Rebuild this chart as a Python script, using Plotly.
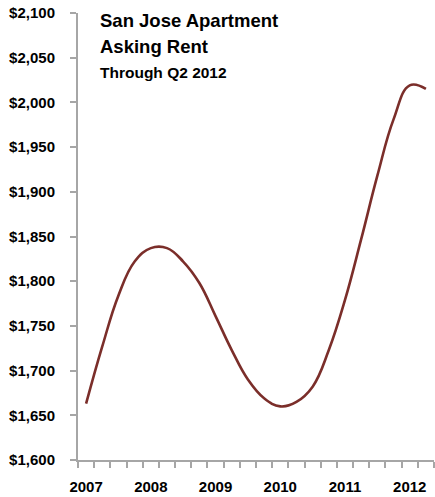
import plotly.graph_objects as go

quarters = ["2007 Q1", "2007 Q2", "2007 Q3", "2007 Q4",
            "2008 Q1", "2008 Q2", "2008 Q3", "2008 Q4",
            "2009 Q1", "2009 Q2", "2009 Q3", "2009 Q4",
            "2010 Q1", "2010 Q2", "2010 Q3", "2010 Q4",
            "2011 Q1", "2011 Q2", "2011 Q3", "2011 Q4",
            "2012 Q1", "2012 Q2"]
rent = [1663, 1727, 1784, 1822, 1837, 1837, 1822, 1798, 1761, 1723, 1690,
        1669, 1660, 1665, 1682, 1723, 1779, 1847, 1918, 1981, 2019, 2015]
year_labels = ["2007", "2008", "2009", "2010", "2011", "2012"]
y_ticks = list(range(1600, 2101, 50))
title_lines = ["San Jose Apartment", "Asking Rent"]
subtitle = "Through Q2 2012"

FONT = "Liberation Sans Narrow, Arial Narrow, Arial, sans-serif"

x_idx = list(range(len(quarters)))
year_pos = [quarters.index(y + " Q1") for y in year_labels]

fig = go.Figure()
fig.add_trace(go.Scatter(
    x=x_idx, y=rent, mode="lines",
    line=dict(color="#7B2E2A", width=2.6, shape="spline", smoothing=1.2),
    hoverinfo="skip", showlegend=False,
))

fig.update_layout(
    width=435, height=497,
    margin=dict(l=78, r=1, t=13, b=37),
    paper_bgcolor="white", plot_bgcolor="white",
    font=dict(family=FONT, color="black"),
    xaxis=dict(
        range=[-0.5, len(quarters) - 0.5],
        tickvals=year_pos, ticktext=year_labels,
        ticks="", showgrid=False, zeroline=False,
        showline=True, linecolor="#A6A6A6", linewidth=2,
        tickfont=dict(family=FONT, size=15, color="black", weight="bold"),
        ticklabelstandoff=12,
        minor=dict(tickvals=[i - 0.5 for i in range(len(quarters) + 1)],
                   ticks="outside", ticklen=6, tickwidth=2, tickcolor="#A6A6A6",
                   showgrid=False),
    ),
    yaxis=dict(
        range=[1600, 2100],
        tickvals=y_ticks, ticktext=["${:,}".format(v) for v in y_ticks],
        ticks="outside", ticklen=6, tickwidth=2, tickcolor="#A6A6A6",
        showgrid=False, zeroline=False,
        showline=True, linecolor="#A6A6A6", linewidth=2,
        tickfont=dict(family=FONT, size=15, color="black", weight="bold"),
        ticklabelstandoff=12,
    ),
    annotations=[
        dict(text=title_lines[0], xref="paper", yref="paper",
             x=0.056, y=0.983, xanchor="left", yanchor="middle", align="left",
             showarrow=False,
             font=dict(family=FONT, size=18.5, color="black", weight="bold")),
        dict(text=title_lines[1], xref="paper", yref="paper",
             x=0.056, y=0.924, xanchor="left", yanchor="middle", align="left",
             showarrow=False,
             font=dict(family=FONT, size=18.5, color="black", weight="bold")),
        dict(text=subtitle, xref="paper", yref="paper",
             x=0.056, y=0.866, xanchor="left", yanchor="middle", align="left",
             showarrow=False,
             font=dict(family=FONT, size=15.5, color="black", weight="bold")),
    ],
)

fig.write_html("out.html")
